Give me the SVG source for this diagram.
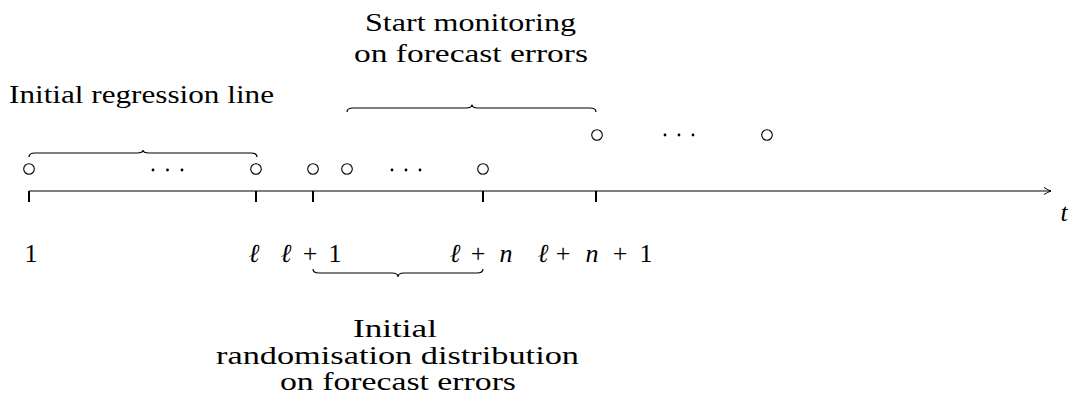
<svg xmlns="http://www.w3.org/2000/svg" width="1068" height="407" viewBox="0 0 1068 407">
<style>
.c{fill:#fff;stroke:#000;stroke-width:1.1}
.ln{fill:none;stroke:#000;stroke-width:1.2}
.tk{stroke:#000;stroke-width:2}
.d{fill:#000}
</style>
<defs>
<marker id="ar" markerWidth="10" markerHeight="10" refX="8" refY="5" orient="auto" markerUnits="userSpaceOnUse">
<path d="M1,1.5 Q5,4 8,5 Q5,6 1,8.5" fill="none" stroke="#000" stroke-width="1"/>
</marker>
</defs>
<g id="connectors">
<line class="ln" x1="29" y1="191" x2="1051" y2="191" marker-end="url(#ar)"/>
<line class="tk" x1="29" y1="191" x2="29" y2="202"/>
<line class="tk" x1="256" y1="191" x2="256" y2="202"/>
<line class="tk" x1="313" y1="191" x2="313" y2="202"/>
<line class="tk" x1="483" y1="191" x2="483" y2="202"/>
<line class="tk" x1="596" y1="191" x2="596" y2="202"/>
<path class="ln" d="M29,157 Q29,153 35,153 L137,153 Q143,153 143,150 Q143,153 149,153 L251,153 Q257,153 257,157"/>
<path class="ln" d="M347,112 Q347,108 353,108 L466,108 Q472,108 472,104.5 Q472,108 478,108 L590,108 Q596,108 596,112"/>
<path class="ln" d="M313,269 Q313,273 319,273 L392,273 Q398,273 398,277 Q398,273 404,273 L477,273 Q483,273 483,269"/>
</g>
<g id="points">
<circle class="c" cx="29" cy="169" r="5.3"/>
<circle class="c" cx="256" cy="169" r="5.3"/>
<circle class="c" cx="313" cy="169" r="5.3"/>
<circle class="c" cx="347" cy="169" r="5.3"/>
<circle class="c" cx="483" cy="169" r="5.3"/>
<circle class="c" cx="597" cy="135" r="5.3"/>
<circle class="c" cx="767" cy="135" r="5.3"/>
<circle class="d" cx="153" cy="170" r="1.4"/><circle class="d" cx="167.5" cy="170" r="1.4"/><circle class="d" cx="182" cy="170" r="1.4"/>
<circle class="d" cx="392" cy="170" r="1.4"/><circle class="d" cx="406" cy="170" r="1.4"/><circle class="d" cx="420" cy="170" r="1.4"/>
<circle class="d" cx="665" cy="135" r="1.4"/><circle class="d" cx="679" cy="135" r="1.4"/><circle class="d" cx="693" cy="135" r="1.4"/>
</g>
<g id="labels" font-family="Liberation Serif, DejaVu Serif, serif" font-size="26" text-anchor="middle" fill="#000">
<text x="31" y="262">1</text>
<text x="254" y="262" font-style="italic">ℓ</text>
<text x="286" y="262" font-style="italic">ℓ</text>
<text x="310" y="262">+</text>
<text x="335" y="262">1</text>
<text x="455" y="262" font-style="italic">ℓ</text>
<text x="478" y="262">+</text>
<text x="506" y="262" font-style="italic">n</text>
<text x="543" y="262" font-style="italic">ℓ</text>
<text x="563" y="262">+</text>
<text x="592" y="262" font-style="italic">n</text>
<text x="620" y="262">+</text>
<text x="646" y="262">1</text>
<text x="1064" y="221" font-style="italic">t</text>
</g>
<g id="node-regression" font-family="Liberation Serif, serif" font-size="25" fill="#000">
<text x="9" y="103" textLength="265" lengthAdjust="spacingAndGlyphs">Initial regression line</text>
</g>
<g id="node-monitoring" font-family="Liberation Serif, serif" font-size="25" fill="#000">
<text x="365" y="31" textLength="211" lengthAdjust="spacingAndGlyphs">Start monitoring</text>
<text x="354" y="62" textLength="234" lengthAdjust="spacingAndGlyphs">on forecast errors</text>
</g>
<g id="node-randomisation" font-family="Liberation Serif, serif" font-size="25" fill="#000">
<text x="353" y="337" textLength="84" lengthAdjust="spacingAndGlyphs">Initial</text>
<text x="216" y="364" textLength="363" lengthAdjust="spacingAndGlyphs">randomisation distribution</text>
<text x="280" y="390" textLength="236" lengthAdjust="spacingAndGlyphs">on forecast errors</text>
</g>
</svg>
